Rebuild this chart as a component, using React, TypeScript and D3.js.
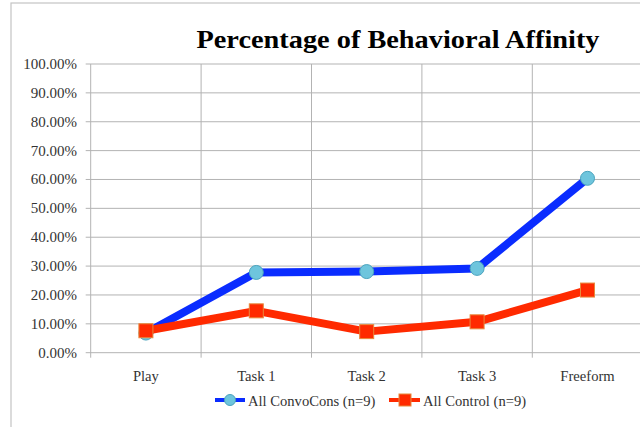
import React from "react";
import * as d3 from "d3";

const categories = ["Play", "Task 1", "Task 2", "Task 3", "Freeform"];
const convoCons = [0.068, 0.278, 0.281, 0.292, 0.604];
const control = [0.076, 0.145, 0.073, 0.107, 0.217];
const yTicks = [0, 0.1, 0.2, 0.3, 0.4, 0.5, 0.6, 0.7, 0.8, 0.9, 1.0];
const seriesNames = ["All ConvoCons (n=9)", "All Control (n=9)"];

const W = 640, H = 427;
const left = 90.7, right = 642.7, top = 64, bottom = 352.7;
const font = "'Liberation Serif', 'DejaVu Serif', serif";

export default function App() {
  const x = d3.scaleBand<string>().domain(categories).range([left, right]);
  const y = d3.scaleLinear().domain([0, 1]).range([bottom, top]);
  const cx = (c: string) => (x(c) as number) + x.bandwidth() / 2;
  const line = d3.line<number>().x((_, i) => cx(categories[i])).y((d) => y(d));
  const fmt = d3.format(".2%");
  const grid = "#b3b3b3";
  const blue = "#0a2cff";
  const red = "#ff2a00";
  const vLines = categories.map((c) => x(c) as number).concat([right]);
  return (
    <svg width={W} height={H} style={{ position: "absolute", left: 0, top: 0, background: "#fff" }}>
      <rect x={11} y={3} width={700} height={500} fill="#fff" stroke="#c4c4c4" strokeWidth={1.2} />
      <text x={398} y={48} textAnchor="middle" fontFamily={font} fontWeight="bold" fontSize={26}
        textLength={403} lengthAdjust="spacingAndGlyphs" fill="#000">Percentage of Behavioral Affinity</text>
      {yTicks.map((t) => (
        <g key={t}>
          <line x1={left - 5} x2={right} y1={y(t)} y2={y(t)} stroke={grid} strokeWidth={1} />
          <text x={77} y={y(t) + 5} textAnchor="end" fontFamily={font} fontSize={15} fill="#333">{fmt(t)}</text>
        </g>
      ))}
      {vLines.map((v, i) => (
        <line key={i} x1={v} x2={v} y1={top} y2={bottom + 5} stroke={grid} strokeWidth={1} />
      ))}
      {categories.map((c) => (
        <text key={c} x={cx(c)} y={381} textAnchor="middle" fontFamily={font} fontSize={14.6} fill="#333">{c}</text>
      ))}
      <path d={line(convoCons) || ""} fill="none" stroke={blue} strokeWidth={8} strokeLinejoin="round" />
      {convoCons.map((v, i) => (
        <circle key={i} cx={cx(categories[i])} cy={y(v)} r={7} fill="#6ec5dd" stroke="#4aa3bd" strokeWidth={1} />
      ))}
      <path d={line(control) || ""} fill="none" stroke={red} strokeWidth={8} strokeLinejoin="round" />
      {control.map((v, i) => (
        <rect key={i} x={cx(categories[i]) - 7} y={y(v) - 7} width={14} height={14} fill={red} stroke="#e8893c" strokeWidth={1} />
      ))}
      <g>
        <line x1={215} x2={245} y1={400} y2={400} stroke={blue} strokeWidth={4} />
        <circle cx={230} cy={400} r={5.5} fill="#6ec5dd" stroke="#4aa3bd" strokeWidth={1} />
        <text x={248} y={406} fontFamily={font} fontSize={14.6} fill="#333">{seriesNames[0]}</text>
        <line x1={389} x2={420} y1={400} y2={400} stroke={red} strokeWidth={4} />
        <rect x={399} y={394} width={12} height={12} fill={red} stroke="#e8893c" strokeWidth={1} />
        <text x={423} y={406} fontFamily={font} fontSize={14.6} fill="#333">{seriesNames[1]}</text>
      </g>
    </svg>
  );
}
